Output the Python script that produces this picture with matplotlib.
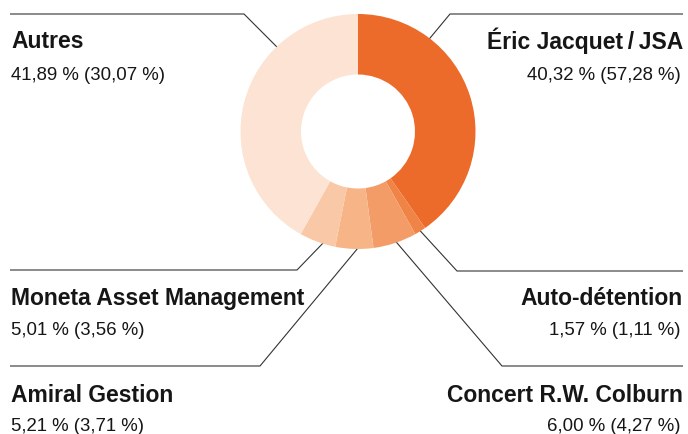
import numpy as np
import matplotlib.pyplot as plt

# data
labels = ['Éric Jacquet\u2009/\u2009JSA', 'Auto-détention', 'Concert R.W. Colburn',
          'Amiral Gestion', 'Moneta Asset Management', 'Autres']
capital = [40.32, 1.57, 6.00, 5.21, 5.01, 41.89]
votes = [57.28, 1.11, 4.27, 3.71, 3.56, 30.07]
colors = ['#ec6a2a', '#f08446', '#f39c68', '#f6b487', '#f9c8a7', '#fde3d3']

# layout (pixel coords, y down)
cx, cy, r_out, r_in = 358, 132.5, 117.5, 57
anchor_deg = [52.4, -58.0, -71.0, -90.0, -107.3, 133.8]
elbow = [(450, 15), (457, 272), (502, 367), (260, 367), (297, 271), (244, 15)]
line_end = [683, 683, 683, 10, 10, 10]
title_y = [48.5, 305.5, 402, 402, 305.5, 48.5]
sub_y = [79.5, 335, 431.5, 431.5, 335, 79.5]

plt.rcParams['font.family'] = ['Liberation Sans', 'DejaVu Sans']

fig = plt.figure(figsize=(6.88, 4.35), dpi=100)
ax = fig.add_axes([0, 0, 1, 1])

ax.pie(capital, colors=colors, startangle=-90, counterclock=True,
       center=(cx, cy), radius=r_out,
       wedgeprops=dict(width=r_out - r_in, linewidth=0))

for i, lab in enumerate(labels):
    a = np.radians(anchor_deg[i])
    px, py = cx + (r_out - 1) * np.cos(a), cy - (r_out - 1) * np.sin(a)
    ex, ey = elbow[i]
    ax.plot([px, ex, line_end[i]], [py, ey, ey], color='#333333', lw=0.8,
            zorder=0, solid_capstyle='butt')
    right = line_end[i] > cx
    ha = 'right' if right else 'left'
    tx = line_end[i] if right else line_end[i] + 1
    ax.text(tx, title_y[i], lab, ha=ha, va='baseline', fontsize=16.5,
            fontweight='bold', color='#161616')
    sub = f'{capital[i]:.2f} % ({votes[i]:.2f} %)'.replace('.', ',')
    ax.text(tx - (2 if right else 0), sub_y[i], sub, ha=ha,
            va='baseline', fontsize=13.4, color='#161616')

ax.set_xlim(0, 688)
ax.set_ylim(435, 0)
ax.set_aspect('equal')
ax.axis('off')

fig.savefig('out.png', dpi=100)
